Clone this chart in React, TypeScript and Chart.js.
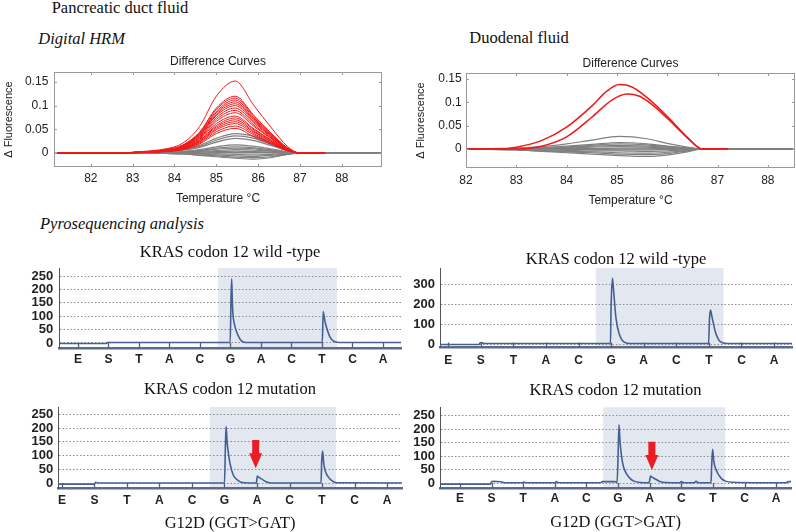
import React, { useEffect, useRef } from 'react';
import { Chart, registerables } from 'chart.js';

Chart.register(...registerables);

const SANS = '"Liberation Sans", Arial, Helvetica, sans-serif';
const SERIF = '"Liberation Serif", "Times New Roman", serif';

// ---------------- Digital HRM data ----------------
const hrmXTicks = [82, 83, 84, 85, 86, 87, 88];
const hrmYTicks = [0, 0.05, 0.1, 0.15];

// Pancreatic duct fluid
const pancRedTemps = [81.2, 82.6, 83.2, 83.8, 84.2, 84.6, 85.0, 85.45, 85.9, 86.3, 86.7, 87.0, 87.6];
const pancRedCurves = [
  [0, 0, 0.003, 0.009, 0.021, 0.056, 0.12, 0.152, 0.1, 0.055, 0.014, 0, 0],
  [0, 0, 0.002, 0.007, 0.017, 0.044, 0.095, 0.12, 0.079, 0.043, 0.011, 0, 0],
  [0, 0, 0.002, 0.007, 0.016, 0.043, 0.092, 0.116, 0.077, 0.042, 0.01, 0, 0],
  [0, 0, 0.002, 0.007, 0.016, 0.041, 0.088, 0.112, 0.074, 0.04, 0.01, 0, 0],
  [0, 0, 0.002, 0.006, 0.015, 0.04, 0.085, 0.108, 0.071, 0.039, 0.01, 0, 0],
  [0, 0, 0.002, 0.006, 0.015, 0.038, 0.082, 0.104, 0.069, 0.037, 0.009, 0, 0],
  [0, 0, 0.002, 0.006, 0.014, 0.037, 0.079, 0.1, 0.066, 0.036, 0.009, 0, 0],
  [0, 0, 0.002, 0.006, 0.013, 0.035, 0.075, 0.095, 0.063, 0.034, 0.009, 0, 0],
  [0, 0, 0.002, 0.005, 0.013, 0.033, 0.071, 0.09, 0.059, 0.032, 0.008, 0, 0],
  [0, 0, 0.002, 0.005, 0.012, 0.031, 0.067, 0.085, 0.056, 0.031, 0.008, 0, 0],
  [0, 0, 0.002, 0.005, 0.011, 0.029, 0.062, 0.078, 0.051, 0.028, 0.007, 0, 0],
  [0, 0, 0.001, 0.004, 0.01, 0.027, 0.058, 0.074, 0.049, 0.027, 0.007, 0, 0],
  [0, 0, 0.001, 0.004, 0.01, 0.026, 0.055, 0.07, 0.046, 0.025, 0.006, 0, 0],
  [0, 0, 0.001, 0.004, 0.009, 0.024, 0.052, 0.066, 0.044, 0.024, 0.006, 0, 0],
  [0, 0, 0.001, 0.004, 0.009, 0.023, 0.049, 0.062, 0.041, 0.022, 0.006, 0, 0],
  [0, 0, 0.001, 0.003, 0.008, 0.021, 0.045, 0.057, 0.038, 0.021, 0.005, 0, 0],
  [0, 0, 0.001, 0.003, 0.007, 0.019, 0.041, 0.052, 0.034, 0.019, 0.005, 0, 0],
];
const pancGreyTemps = [81.2, 82.6, 83.2, 83.8, 84.2, 84.6, 85.0, 85.45, 85.9, 86.3, 86.7, 87.0, 87.6, 89.0];
const pancGreyCurves = [
  [0, 0, 0.001, 0.004, 0.008, 0.016, 0.031, 0.041, 0.035, 0.021, 0.006, 0, 0, 0],
  [0, 0, 0.001, 0.004, 0.007, 0.014, 0.027, 0.036, 0.031, 0.018, 0.005, 0, 0, 0],
  [0, 0, 0.001, 0.003, 0.006, 0.012, 0.023, 0.031, 0.026, 0.016, 0.005, 0, 0, 0],
  [0, 0, 0.001, 0.002, 0.003, 0.007, 0.013, 0.017, 0.014, 0.009, 0.003, 0, 0, 0],
  [0, 0, 0, 0.001, 0.003, 0.005, 0.01, 0.013, 0.011, 0.007, 0.002, 0, 0, 0],
  [0, 0, 0, 0.001, 0.002, 0.004, 0.008, 0.01, 0.009, 0.005, 0.002, 0, 0, 0],
  [0, 0, 0, 0.001, 0.001, 0.003, 0.005, 0.007, 0.006, 0.004, 0.001, 0, 0, 0],
  [0, 0, 0, 0, 0.001, 0.002, 0.003, 0.004, 0.003, 0.002, 0.001, 0, 0, 0],
  [0, 0, 0, 0, 0, 0, 0.001, 0.001, 0.001, 0.001, 0, 0, 0, 0],
  [0, 0, 0, 0, -0.001, -0.001, -0.002, -0.003, -0.004, -0.003, -0.001, 0, 0, 0],
  [0, 0, 0, 0, -0.001, -0.002, -0.004, -0.006, -0.007, -0.005, -0.002, 0, 0, 0],
  [0, 0, 0, -0.001, -0.002, -0.004, -0.006, -0.009, -0.01, -0.008, -0.003, 0, 0, 0],
  [0, 0, 0, -0.001, -0.002, -0.005, -0.008, -0.011, -0.013, -0.01, -0.003, 0, 0, 0],
];

// Duodenal fluid
const duoRedTempsA = [82, 82.6, 83, 83.5, 84, 84.5, 84.8, 85.05, 85.3, 85.6, 86, 86.4, 86.7, 87.2];
const duoRedA = [0, 0, 0.004, 0.018, 0.047, 0.092, 0.124, 0.138, 0.133, 0.11, 0.07, 0.025, 0, 0];
const duoRedTempsB = [82, 82.6, 83, 83.5, 84, 84.5, 84.9, 85.2, 85.45, 85.7, 86, 86.4, 86.7, 87.2];
const duoRedB = [0, 0, 0, 0.006, 0.026, 0.068, 0.105, 0.118, 0.113, 0.095, 0.066, 0.024, 0, 0];
const duoGreyTemps = [82, 82.5, 83, 83.5, 84, 84.5, 85.05, 85.6, 86, 86.4, 86.7, 87, 88.5];
const duoGreyCurves = [
  [0, 0.001, 0.002, 0.005, 0.011, 0.019, 0.027, 0.022, 0.012, 0.004, 0, 0, 0],
  [0, 0, 0.001, 0.003, 0.006, 0.01, 0.014, 0.011, 0.006, 0.002, 0, 0, 0],
  [0, 0, 0.001, 0.002, 0.004, 0.008, 0.011, 0.009, 0.005, 0.002, 0, 0, 0],
  [0, 0, 0.001, 0.001, 0.003, 0.006, 0.008, 0.006, 0.004, 0.001, 0, 0, 0],
  [0, 0, 0, 0.001, 0.002, 0.004, 0.005, 0.004, 0.002, 0.001, 0, 0, 0],
  [0, 0, 0, 0, 0.001, 0.001, 0.002, 0.002, 0.001, 0, 0, 0, 0],
  [0, 0, 0, 0, -0.001, -0.001, -0.002, -0.002, -0.001, 0, 0, 0, 0],
  [0, 0, -0.001, -0.002, -0.003, -0.004, -0.004, -0.005, -0.004, -0.002, 0, 0, 0],
  [0, 0, -0.001, -0.003, -0.005, -0.006, -0.008, -0.009, -0.007, -0.003, 0, 0, 0],
  [0, -0.001, -0.002, -0.004, -0.006, -0.008, -0.011, -0.012, -0.01, -0.004, 0, 0, 0],
  [0, -0.001, -0.002, -0.005, -0.008, -0.011, -0.014, -0.016, -0.013, -0.006, 0, 0, 0],
];

// ---------------- Pyrosequencing data ----------------
const dispensation = ['E', 'S', 'T', 'A', 'C', 'G', 'A', 'C', 'T', 'C', 'A'];
const dispensationPos = [0, 1, 2, 3, 4, 5, 6, 7, 8, 9, 10];
const pyroTicks250 = [0, 50, 100, 150, 200, 250];
const pyroTicks300 = [0, 100, 200, 300];

// Pancreatic duct fluid, wild-type
const wtPancX = [-0.62, 0.93, 0.97, 4.99, 5.02, 5.04, 5.06, 5.08, 5.12, 5.2, 5.31, 5.42, 5.6, 8.01, 8.04, 8.07, 8.1, 8.15, 8.26, 8.37, 8.55, 10.59];
const wtPancY = [-2, -2, 2, 2, 175, 240, 160, 110, 75, 42, 15, 4, 2, 2, 117, 100, 80, 58, 23, 8, 2, 2];
// Duodenal fluid, wild-type
const wtDuoX = [-0.25, 0.95, 0.98, 1.02, 1.1, 4.98, 5.0, 5.04, 5.07, 5.1, 5.15, 5.25, 5.4, 5.6, 7.99, 8.02, 8.05, 8.09, 8.2, 8.35, 8.55, 10.55];
const wtDuoY = [-2, -2, 6, 8, 3, 3, 190, 328, 280, 220, 128, 50, 10, 3, 3, 130, 170, 140, 60, 12, 3, 3];
// Pancreatic duct fluid, mutation
const mutPancX = [-0.12, 1.0, 1.04, 1.1, 5.0, 5.03, 5.05, 5.08, 5.12, 5.17, 5.27, 5.42, 5.6, 5.98, 6.01, 6.05, 6.15, 6.3, 6.45, 7.97, 7.99, 8.02, 8.05, 8.1, 8.18, 8.3, 8.45, 10.46];
const mutPancY = [-3, -3, 4, 1, 1, 140, 205, 150, 110, 72, 30, 10, 2, 1, 26, 22, 15, 5, 1, 1, 80, 117, 75, 45, 25, 10, 2, 1];
// Duodenal fluid, mutation
const mutDuoX = [-0.63, 0.97, 1.0, 1.05, 1.3, 1.4, 1.98, 2.02, 2.1, 3.0, 3.05, 3.12, 4.45, 4.5, 4.9, 4.97, 5.0, 5.03, 5.06, 5.1, 5.17, 5.27, 5.38, 5.5, 5.7, 5.98, 6.03, 6.08, 6.15, 6.3, 6.5, 6.95, 7.0, 7.08, 7.4, 7.47, 7.55, 7.94, 7.96, 7.99, 8.03, 8.1, 8.25, 8.4, 8.6, 10.3, 10.4, 10.47];
const mutDuoY = [-3, -3, 6, 7, 6, 2, 2, 5, 2, 2, 6, 2, 2, 6, 6, 3, 95, 216, 160, 110, 62, 35, 18, 8, 3, 2, 27, 22, 18, 8, 3, 2, 6, 2, 2, 7, 2, 2, 60, 126, 80, 50, 20, 8, 4, 2, 6, 6];

// shaded analysis region (dispensation index units) and red arrow (x, top value, tip value)
const shadePancWt = [4.59, 8.49];
const shadeDuoWt = [4.53, 8.45];
const shadePancMut = [4.55, 8.43];
const shadeDuoMut = [4.53, 8.39];
const arrowPancMut = [5.96, 157, 54];
const arrowDuoMut = [6.07, 154, 49];

// ---------------- plugins ----------------
const hrmFramePlugin = {
  id: 'hrmFrame',
  afterDraw(chart: any) {
    const { ctx, chartArea: a, scales } = chart;
    const x = scales.x, y = scales.y;
    ctx.save();
    ctx.strokeStyle = '#9a9a9a';
    ctx.lineWidth = 1;
    ctx.strokeRect(Math.round(a.left) + 0.5, Math.round(a.top) + 0.5, Math.round(a.right - a.left) - 1, Math.round(a.bottom - a.top) - 1);
    ctx.beginPath();
    x.ticks.forEach((t: any) => {
      const px = Math.round(x.getPixelForValue(t.value)) + 0.5;
      ctx.moveTo(px, a.bottom); ctx.lineTo(px, a.bottom - 3);
      ctx.moveTo(px, a.top); ctx.lineTo(px, a.top + 3);
    });
    y.ticks.forEach((t: any) => {
      const py = Math.round(y.getPixelForValue(t.value)) + 0.5;
      ctx.moveTo(a.left, py); ctx.lineTo(a.left + 3, py);
      ctx.moveTo(a.right, py); ctx.lineTo(a.right - 3, py);
    });
    ctx.stroke();
    ctx.restore();
  },
};

const pyroShadePlugin = {
  id: 'pyroShade',
  beforeDraw(chart: any, _args: any, opts: any) {
    if (!opts || !opts.range) return;
    const { ctx, chartArea: a, scales } = chart;
    const x0 = scales.x.getPixelForValue(opts.range[0]);
    const x1 = scales.x.getPixelForValue(opts.range[1]);
    ctx.save();
    ctx.fillStyle = 'rgb(226,231,240)';
    ctx.fillRect(x0, a.top, x1 - x0, a.bottom - a.top);
    ctx.restore();
  },
};

const pyroInnerTicksPlugin = {
  id: 'pyroInnerTicks',
  afterDatasetsDraw(chart: any) {
    const { ctx, chartArea: a, scales } = chart;
    ctx.save();
    ctx.strokeStyle = 'rgb(80,96,124)';
    ctx.lineWidth = 1.3;
    ctx.beginPath();
    scales.x.ticks.forEach((t: any) => {
      const px = Math.round(scales.x.getPixelForValue(t.value)) + 0.5;
      ctx.moveTo(px, a.bottom);
      ctx.lineTo(px, a.bottom - 5);
    });
    ctx.stroke();
    ctx.restore();
  },
};

const pyroArrowPlugin = {
  id: 'pyroArrow',
  afterDatasetsDraw(chart: any, _args: any, opts: any) {
    if (!opts || !opts.arrow) return;
    const { ctx, scales } = chart;
    const [ax, aTop, aTip] = opts.arrow;
    const x0 = scales.x.getPixelForValue(ax);
    const yTop = scales.y.getPixelForValue(aTop);
    const yTip = scales.y.getPixelForValue(aTip);
    const sh = 3.5, hh = 6.5, hl = 15;
    ctx.save();
    ctx.fillStyle = 'rgb(236,28,36)';
    ctx.beginPath();
    ctx.moveTo(x0 - sh, yTop);
    ctx.lineTo(x0 + sh, yTop);
    ctx.lineTo(x0 + sh, yTip - hl);
    ctx.lineTo(x0 + hh, yTip - hl);
    ctx.lineTo(x0, yTip);
    ctx.lineTo(x0 - hh, yTip - hl);
    ctx.lineTo(x0 - sh, yTip - hl);
    ctx.closePath();
    ctx.fill();
    ctx.restore();
  },
};

// ---------------- config builders ----------------
const pts = (xs: number[], ys: number[]) => xs.map((x, i) => ({ x, y: ys[i] }));

const RED = 'rgb(240,24,24)';
const GREY = 'rgb(128,128,128)';

function hrmConfig(p: any) {
  const datasets: any[] = [];
  p.red.forEach((r: any) => datasets.push({ data: pts(r.t, r.v), borderColor: RED, borderWidth: p.redWidth }));
  p.grey.forEach((g: any) => datasets.push({ data: pts(g.t, g.v), borderColor: GREY, borderWidth: 1.2 }));
  datasets.push({ data: pts([p.xMin, p.xMax], [0, 0]), borderColor: 'rgb(120,120,120)', borderWidth: 1 });
  return {
    type: 'line',
    data: { datasets },
    options: {
      responsive: false,
      animation: false,
      devicePixelRatio: 1,
      layout: { padding: { left: 0, right: p.padRight, top: 0, bottom: 0 } },
      elements: { point: { radius: 0 }, line: { cubicInterpolationMode: 'monotone', fill: false } },
      plugins: {
        legend: { display: false },
        tooltip: { enabled: false },
        title: {
          display: true, text: 'Difference Curves', fullSize: false, color: '#222',
          font: { family: SANS, size: 12, weight: 'normal', lineHeight: 1.2 },
          padding: { top: p.titleTop, bottom: p.titleBottom },
        },
      },
      scales: {
        x: {
          type: 'linear', min: p.xMin, max: p.xMax,
          afterBuildTicks: (s: any) => { s.ticks = hrmXTicks.map((v) => ({ value: v })); },
          afterFit: (s: any) => { s.height = p.xAxisHeight; },
          ticks: { color: '#222', font: { family: SANS, size: 12 }, padding: p.xLabelPad, maxRotation: 0, autoSkip: false, callback: (v: any) => String(v) },
          grid: { display: false, drawTicks: false },
          border: { display: false },
          title: { display: true, text: 'Temperature °C', color: '#222', font: { family: SANS, size: 12 }, padding: { top: 0, bottom: p.xTitlePad } },
        },
        y: {
          type: 'linear', min: p.yMin, max: p.yMax,
          afterBuildTicks: (s: any) => { s.ticks = hrmYTicks.map((v) => ({ value: v })); },
          afterFit: (s: any) => { s.width = p.yAxisWidth; },
          ticks: { color: '#222', font: { family: SANS, size: 12 }, padding: p.yLabelPad, autoSkip: false, callback: (v: any) => String(v) },
          grid: { display: false, drawTicks: false },
          border: { display: false },
          title: { display: true, text: 'Δ Fluorescence', color: '#222', font: { family: SANS, size: 11 }, padding: { top: p.yTitlePad, bottom: 0 } },
        },
      },
    },
    plugins: [hrmFramePlugin],
  };
}

function pyroConfig(p: any) {
  const xScale: any = {
    type: 'linear', min: p.xMin, max: p.xMax,
    afterBuildTicks: (s: any) => { s.ticks = dispensationPos.map((v) => ({ value: v })); },
    afterFit: (s: any) => { s.height = p.xAxisHeight; },
    ticks: {
      color: '#222', font: { family: SANS, size: 12, weight: 'bold' }, padding: p.xLabelPad,
      maxRotation: 0, autoSkip: false,
      callback: (v: any) => dispensation[Math.round(v)],
    },
    grid: { display: false, drawTicks: false },
    border: { display: true, color: 'rgb(92,108,134)', width: 2.5 },
  };
  if (p.xTitle) {
    xScale.title = { display: true, text: p.xTitle, color: '#111', font: { family: SERIF, size: 16.5, lineHeight: 1 }, padding: { top: 0, bottom: p.xTitlePad } };
  }
  return {
    type: 'line',
    data: {
      datasets: [
        { data: pts(p.xs, p.ys), borderColor: 'rgb(68,96,146)', borderWidth: 1.6, pointRadius: 0, cubicInterpolationMode: 'monotone', fill: false },
      ],
    },
    options: {
      responsive: false,
      animation: false,
      devicePixelRatio: 1,
      layout: { padding: { left: 0, right: p.padRight, top: 0, bottom: 0 } },
      plugins: {
        legend: { display: false },
        tooltip: { enabled: false },
        title: {
          display: true, text: p.title, fullSize: false, color: '#111',
          font: { family: SERIF, size: 16.5, weight: 'normal', lineHeight: 1 },
          padding: { top: p.titleTop, bottom: p.titleBottom },
        },
        pyroShade: { range: p.shade },
        pyroArrow: { arrow: p.arrow },
      },
      scales: {
        x: xScale,
        y: {
          type: 'linear', min: p.yMin, max: p.yMax,
          afterBuildTicks: (s: any) => { s.ticks = p.yTicks.map((v: number) => ({ value: v })); },
          afterFit: (s: any) => { s.width = p.yAxisWidth; },
          ticks: { color: '#222', font: { family: SANS, size: 13, weight: 'bold' }, padding: p.yLabelPad, autoSkip: false, callback: (v: any) => String(v) },
          grid: { display: true, drawTicks: false, color: '#8c8c8c', lineWidth: 1 },
          border: { display: true, color: '#555', width: 1, dash: [1.5, 2] },
        },
      },
    },
    plugins: [pyroShadePlugin, pyroInnerTicksPlugin, pyroArrowPlugin],
  };
}

function ChartBox({ left, top, width, height, make }: { left: number; top: number; width: number; height: number; make: () => any }) {
  const ref = useRef<HTMLCanvasElement | null>(null);
  useEffect(() => {
    const chart = new Chart(ref.current as HTMLCanvasElement, make());
    return () => chart.destroy();
  }, []);
  return (
    <canvas
      ref={ref}
      width={width}
      height={height}
      style={{ position: 'absolute', left, top, width, height, display: 'block' }}
    />
  );
}

const headingStyle = (left: number, top: number, italic: boolean): React.CSSProperties => ({
  position: 'absolute', left, top, fontFamily: SERIF, fontSize: 16.5, lineHeight: '16.5px',
  fontStyle: italic ? 'italic' : 'normal', color: '#111', whiteSpace: 'nowrap', margin: 0,
});

export default function App() {
  return (
    <div style={{ position: 'absolute', left: 0, top: 0, width: 796, height: 532, background: '#fff', overflow: 'hidden' }}>
      <div style={headingStyle(51.7, 0.2, false)}>Pancreatic duct fluid</div>
      <div style={headingStyle(38.3, 31.2, true)}>Digital HRM</div>
      <div style={headingStyle(469.3, 29.5, false)}>Duodenal fluid</div>
      <div style={headingStyle(40, 216.2, true)}>Pyrosequencing analysis</div>

      <ChartBox left={0} top={48} width={396} height={160} make={() => hrmConfig({
        red: pancRedCurves.map((v) => ({ t: pancRedTemps, v })),
        grey: pancGreyCurves.map((v) => ({ t: pancGreyTemps, v })),
        redWidth: 1,
        xMin: 81.12, xMax: 88.96, yMin: -0.0296, yMax: 0.1711,
        padRight: 14, titleTop: 6.3, titleBottom: 3.3,
        xAxisHeight: 41, xLabelPad: 4.9, xTitlePad: 2,
        yAxisWidth: 54, yLabelPad: 5.7, yTitlePad: 1.9,
      })} />

      <ChartBox left={400} top={48} width={396} height={160} make={() => hrmConfig({
        red: [{ t: duoRedTempsA, v: duoRedA }, { t: duoRedTempsB, v: duoRedB }],
        grey: duoGreyCurves.map((v) => ({ t: duoGreyTemps, v })),
        redWidth: 1.5,
        xMin: 82, xMax: 88.54, yMin: -0.0407, yMax: 0.1629,
        padRight: 1, titleTop: 8.3, titleBottom: 2.3,
        xAxisHeight: 40, xLabelPad: 5.6, xTitlePad: 0,
        yAxisWidth: 66, yLabelPad: 4.3, yTitlePad: 14.2,
      })} />

      <ChartBox left={0} top={236} width={404} height={134} make={() => pyroConfig({
        xs: wtPancX, ys: wtPancY, title: 'KRAS codon 12 wild -type',
        xMin: -0.62, xMax: 10.59, yMin: -18.7, yMax: 280, yTicks: pyroTicks250,
        shade: shadePancWt, arrow: null,
        padRight: 3, titleTop: 8.45, titleBottom: 7.05,
        xAxisHeight: 22, xLabelPad: 4.6,
        yAxisWidth: 59, yLabelPad: 5.7,
      })} />

      <ChartBox left={404} top={236} width={392} height={134} make={() => pyroConfig({
        xs: wtDuoX, ys: wtDuoY, title: 'KRAS codon 12 wild -type',
        xMin: -0.25, xMax: 10.55, yMin: -17, yMax: 380, yTicks: pyroTicks300,
        shade: shadeDuoWt, arrow: null,
        padRight: 4, titleTop: 15.15, titleBottom: 0.35,
        xAxisHeight: 22.5, xLabelPad: 5.5,
        yAxisWidth: 36, yLabelPad: 5,
      })} />

      <ChartBox left={0} top={370} width={404} height={162} make={() => pyroConfig({
        xs: mutPancX, ys: mutPancY, title: 'KRAS codon 12 mutation', xTitle: 'G12D (GGT>GAT)',
        xMin: -0.12, xMax: 10.46, yMin: -17, yMax: 276, yTicks: pyroTicks250,
        shade: shadePancMut, arrow: arrowPancMut,
        padRight: 2, titleTop: 11.15, titleBottom: 9.35,
        xAxisHeight: 44, xLabelPad: 5.3, xTitlePad: 0.35,
        yAxisWidth: 58, yLabelPad: 4.7,
      })} />

      <ChartBox left={404} top={370} width={392} height={162} make={() => pyroConfig({
        xs: mutDuoX, ys: mutDuoY, title: 'KRAS codon 12 mutation', xTitle: 'G12D (GGT>GAT)',
        xMin: -0.63, xMax: 10.47, yMin: -17.4, yMax: 281, yTicks: pyroTicks250,
        shade: shadeDuoMut, arrow: arrowDuoMut,
        padRight: 5, titleTop: 12.15, titleBottom: 8.65,
        xAxisHeight: 44, xLabelPad: 3.3, xTitlePad: 1.05,
        yAxisWidth: 36, yLabelPad: 5,
      })} />
    </div>
  );
}
